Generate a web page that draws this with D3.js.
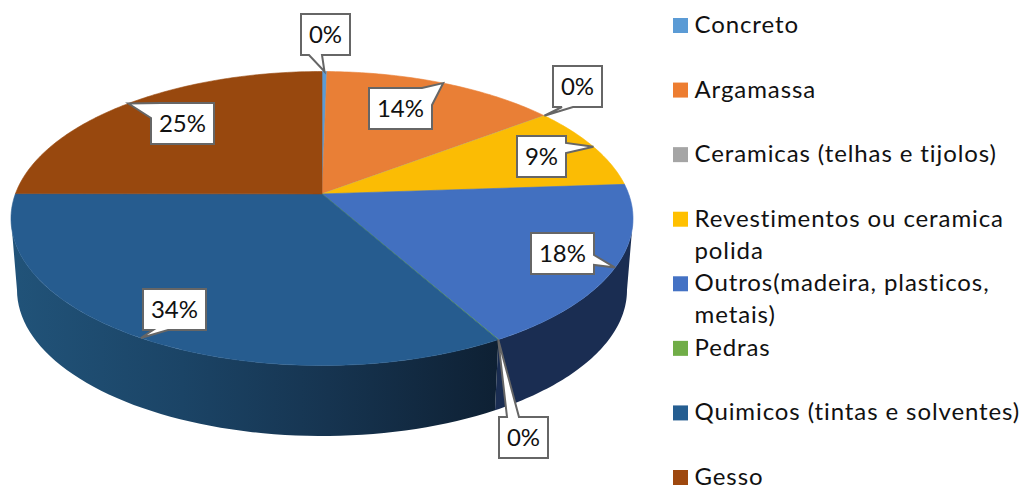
<!DOCTYPE html>
<html>
<head>
<meta charset="utf-8">
<script src="https://cdn.jsdelivr.net/npm/d3@7"></script>
<style>
  html, body { margin: 0; padding: 0; background: #fff; overflow: hidden; }
  text { font-family: Lato, "Open Sans", sans-serif; fill: #111; }
</style>
</head>
<body>
<div id="chart"></div>
<script>
const categories = ['Concreto', 'Argamassa', 'Ceramicas (telhas e tijolos)', 'Revestimentos ou ceramica polida',
    'Outros(madeira, plasticos, metais)', 'Pedras', 'Quimicos (tintas e solventes)', 'Gesso'];
const values = [0.3, 14.4, 0.02, 9.2, 17.9, 0.02, 33.2, 24.96];
// percentages as printed on the chart
const valueLabels = ['0%', '14%', '0%', '9%', '18%', '0%', '34%', '25%'];
const legendColors = ['#5b9bd5', '#ed7d31', '#a5a5a5', '#ffc000', '#4472c4', '#70ad47', '#255e91', '#9e480e'];
const faceColors = ['#5b9bd5', '#e97f36', '#a5a5a5', '#fbbc04', '#4270c0', '#70ad47', '#265c8f', '#98480e'];
// legend labels that wrap on two lines
const legendLines = [['Concreto'], ['Argamassa'], ['Ceramicas (telhas e tijolos)'], ['Revestimentos ou ceramica', 'polida'],
    ['Outros(madeira, plasticos,', 'metais)'], ['Pedras'], ['Quimicos (tintas e solventes)'], ['Gesso']];

// callout boxes: top left corner, and the two points where the pointer leaves the box
const boxX = [301, 369, 553, 517, 531, 499, 143, 151];
const boxY = [14, 88, 66, 136, 233, 417, 289, 103];
const pointerBase = [
    [[309, 55], [322, 55]],
    [[422, 88], [432, 105]],
    [[562, 107], [573, 107]],
    [[566, 143], [566, 153]],
    [[594, 255], [594, 265]],
    [[507, 417], [519, 417]],
    [[153, 330], [168, 330]],
    [[161, 103], [151, 118]]
];

const width = 1021, height = 487;
// top face and floor of the disc
const top3d = { cx: 322, cy: 218.5, rx: 311, ry: 147 };
const floor3d = { cx: 322, cy: 290, rx: 305, ry: 146 };
// perspective: the pie centre is not the centre of the ellipse
const beta = -0.167;

const svg = d3.select('#chart').append('svg')
    .attr('width', width)
    .attr('height', height)
    .style('display', 'block');

const defs = svg.append('defs');
const wallGradient = defs.append('linearGradient')
    .attr('id', 'wallShade')
    .attr('gradientUnits', 'userSpaceOnUse')
    .attr('x1', 11).attr('x2', 500).attr('y1', 0).attr('y2', 0);
[['0%', '#215379'], ['35%', '#1b4466'], ['65%', '#163450'], ['100%', '#0e2033']].forEach(s => {
    wallGradient.append('stop').attr('offset', s[0]).attr('stop-color', s[1]);
});

const pie = d3.pie().sort(null).value(d => d)(values);

// angle on the flat pie -> point on the top ellipse
function project(angle, radius = 1) {
    const X = radius * Math.sin(angle), Y = -radius * Math.cos(angle);
    const d = 1 + beta * Y;
    return [
        top3d.cx + top3d.rx * X * Math.sqrt(1 - beta * beta) / d,
        top3d.cy + top3d.ry * (Y + beta) / d
    ];
}

// ellipse parameter of a point of the rim, used to follow it down on the wall
function rimParam(angle) {
    const p = project(angle);
    return Math.atan2((p[1] - top3d.cy) / top3d.ry, (p[0] - top3d.cx) / top3d.rx);
}

function wallPath(t0, t1) {
    const ts = d3.range(0, 61).map(i => t0 + (t1 - t0) * i / 60);
    const upper = ts.map(t => [top3d.cx + top3d.rx * Math.cos(t), top3d.cy + top3d.ry * Math.sin(t)]);
    const lower = ts.map(t => [floor3d.cx + floor3d.rx * Math.cos(t), floor3d.cy + floor3d.ry * Math.sin(t)]);
    return d3.line()(upper.concat(lower.reverse())) + 'Z';
}

// walls, only the front half of the disc shows
const seam = rimParam(pie[4].endAngle);
svg.append('path').attr('d', wallPath(0, seam)).attr('fill', '#1a2d52');
svg.append('path').attr('d', wallPath(seam, Math.PI)).attr('fill', 'url(#wallShade)');

// top face
const apex = project(0, 0);
svg.selectAll('path.slice')
    .data(pie)
    .enter()
    .append('path')
    .attr('class', 'slice')
    .attr('fill', (d, i) => faceColors[i])
    // same colour stroke hides the hairline between neighbours
    .attr('stroke', (d, i) => faceColors[i])
    .attr('stroke-width', 0.6)
    .attr('d', d => {
        const n = Math.max(2, Math.ceil((d.endAngle - d.startAngle) * 60));
        const rim = d3.range(0, n + 1).map(i => project(d.startAngle + (d.endAngle - d.startAngle) * i / n));
        return d3.line()([apex].concat(rim)) + 'Z';
    });

// data labels as callouts
const boxH = 41;
const callouts = svg.selectAll('g.callout')
    .data(pie)
    .enter()
    .append('g')
    .attr('class', 'callout');

callouts.append('path')
    .attr('fill', '#fff')
    .attr('stroke', '#666')
    .attr('stroke-width', 2)
    .attr('stroke-linejoin', 'miter')
    .attr('d', (d, i) => {
        const w = valueLabels[i].length > 2 ? 63 : 49;
        const x = boxX[i], y = boxY[i];
        const tip = project((d.startAngle + d.endAngle) / 2);
        const corners = [[x, y], [x + w, y], [x + w, y + boxH], [x, y + boxH]];
        const base = pointerBase[i];
        // walk around the box and slot the pointer in the edge it sits on
        const onEdge = p => {
            if (p[1] === y) return (p[0] - x) / w;
            if (p[0] === x + w) return 1 + (p[1] - y) / boxH;
            if (p[1] === y + boxH) return 2 + (x + w - p[0]) / w;
            return 3 + (y + boxH - p[1]) / boxH;
        };
        const a = onEdge(base[0]), b = onEdge(base[1]);
        const from = Math.min(a, b), to = Math.max(a, b);
        const first = a < b ? base[0] : base[1], second = a < b ? base[1] : base[0];
        // pointer straddling the top left corner
        if (to - from > 2) {
            return d3.line()([second, tip, first].concat(corners.filter((c, k) => k > from && k < to))) + 'Z';
        }
        const pts = corners.filter((c, k) => k <= from);
        pts.push(first, tip, second);
        return d3.line()(pts.concat(corners.filter((c, k) => k > to))) + 'Z';
    });

callouts.append('text')
    .attr('x', (d, i) => boxX[i] + (valueLabels[i].length > 2 ? 31.5 : 24.5))
    .attr('y', (d, i) => boxY[i] + 29)
    .attr('text-anchor', 'middle')
    .style('font-size', '24px')
    .text((d, i) => valueLabels[i]);

// legend
const legendY = d3.scalePoint().domain(categories).range([25.5, 477.5]);
const legend = svg.selectAll('g.legendItem')
    .data(categories)
    .enter()
    .append('g')
    .attr('class', 'legendItem')
    .attr('transform', d => `translate(673,${legendY(d)})`);

legend.append('rect')
    .attr('y', -7.5)
    .attr('width', 15)
    .attr('height', 15)
    .attr('fill', (d, i) => legendColors[i]);

legend.each(function(d, i) {
    legendLines[i].forEach((line, k) => {
        d3.select(this).append('text')
            .attr('x', 21.5)
            .attr('y', 7.5 + k * 32)
            .style('font-size', '24px')
            .style('letter-spacing', '0.9px')
            .text(line);
    });
});
</script>
</body>
</html>
